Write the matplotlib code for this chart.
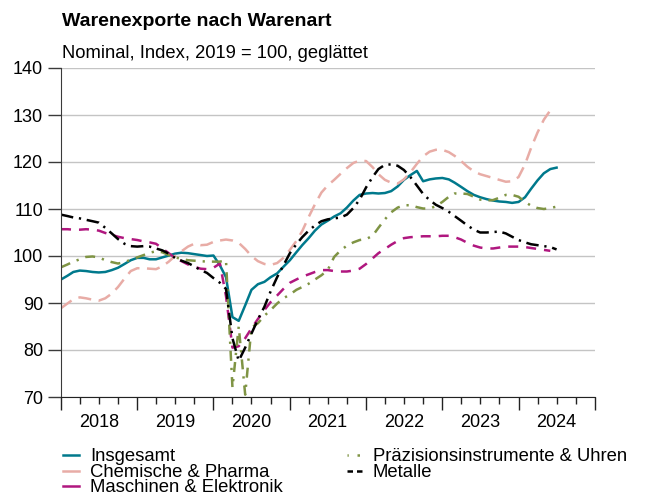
import matplotlib
matplotlib.use("Agg")
import matplotlib.pyplot as plt
import matplotlib.dates as mdates
from matplotlib.lines import Line2D
import pandas as pd

plt.rcParams['font.family'] = ['Liberation Sans', 'DejaVu Sans']

title = "Warenexporte nach Warenart"
subtitle = "Nominal, Index, 2019 = 100, geglättet"
start_month = "2018-01-01"

insgesamt = [95.0, 95.8, 96.6, 96.9, 96.8, 96.6, 96.5, 96.6, 97.0, 97.5, 98.3, 99.1,
             99.6, 99.6, 99.3, 99.3, 99.7, 100.1, 100.5, 100.7, 100.6, 100.4, 100.2, 100.0,
             100.1, 98.0, 95.5, 87.0, 86.2, 89.5, 92.8, 94.0, 94.5, 95.5, 96.3, 97.7,
             99.1, 100.8, 102.3, 103.8, 105.4, 106.7, 107.5, 108.4, 109.1, 110.3, 111.8, 113.0,
             113.3, 113.4, 113.3, 113.4, 113.8, 114.8, 116.2, 117.2, 118.1, 115.9, 116.3, 116.5,
             116.6, 116.3, 115.6, 114.7, 113.8, 113.0, 112.5, 112.1, 111.8, 111.6, 111.5, 111.3,
             111.5, 112.5, 114.3, 116.1, 117.6, 118.5, 118.8]
chemie = [88.9, 89.9, 90.8, 91.2, 91.0, 90.7, 90.5, 91.0, 92.0, 93.4, 95.2, 96.8,
          97.4, 97.4, 97.3, 97.2, 97.8, 98.8, 100.0, 101.0, 102.0, 102.6, 102.3, 102.4,
          103.0, 103.3, 103.5, 103.3, 102.8, 101.5, 100.0, 98.9, 98.3, 98.1, 98.5, 99.6,
          101.3, 103.2, 105.3, 108.3, 111.0, 113.5, 115.0, 116.2, 117.5, 118.7, 119.8, 120.3,
          120.2, 118.9, 117.4, 116.2, 115.6, 115.4, 116.3, 117.8, 119.6, 121.2, 122.2, 122.6,
          122.6, 122.1, 121.3, 120.2, 119.0, 118.0, 117.4, 117.0, 116.6, 116.2, 115.8, 115.9,
          116.8, 119.5, 123.0, 126.3, 129.0, 131.0]
maschinen = [105.7, 105.7, 105.6, 105.6, 105.7, 105.6, 105.4, 104.9, 104.5, 104.1, 103.8, 103.6,
             103.4, 103.1, 102.9, 102.6, 101.6, 100.6, 99.6, 98.9, 98.2, 97.7, 97.3, 97.2,
             97.5, 98.4, 91.5, 80.5, 80.8, 82.5, 84.6, 86.6, 88.5, 90.2, 91.6, 93.0,
             94.3, 95.0, 95.6, 96.1, 96.6, 97.0, 97.0, 96.8, 96.7, 96.7, 96.9, 97.3,
             98.3, 99.5, 100.6, 101.5, 102.4, 103.2, 103.8, 104.0, 104.1, 104.2, 104.2, 104.2,
             104.3, 104.3, 104.0, 103.5, 102.8, 102.2, 101.8, 101.6, 101.6, 101.8, 102.0, 102.0,
             102.0, 101.9, 101.7, 101.5, 101.3, 101.1]
praezision = [97.6, 98.2, 98.8, 99.3, 99.8, 99.9, 99.7, 99.1, 98.7, 98.4, 98.7, 99.2,
              99.7, 100.2, 100.7, 101.0, 100.8, 100.2, 99.7, 99.4, 99.1, 99.0, 98.9, 98.8,
              98.8, 98.8, 99.1, 72.0, 85.0, 70.5, 84.8, 85.7, 87.3, 88.5, 89.9, 91.0,
              91.8, 92.8, 93.4, 94.1, 95.0, 95.9, 97.0, 99.8, 101.2, 102.2, 102.9, 103.4,
              103.6, 104.3, 106.0, 107.8, 109.3, 110.3, 110.8, 110.8, 110.4, 110.1, 110.1, 110.6,
              111.5, 112.6, 113.3, 113.3, 113.2, 112.6, 112.0, 111.8, 111.9, 112.4, 113.0, 113.0,
              112.6, 111.5, 110.7, 110.2, 110.0, 110.2, 110.5]
metalle = [108.8, 108.5, 108.2, 108.0, 107.7, 107.4, 107.1, 106.0, 104.8, 103.6, 102.6, 102.1,
           102.0, 102.1, 102.0, 101.6, 101.2, 100.5, 99.6, 99.0, 98.5, 97.8, 97.0, 96.4,
           95.3, 94.3, 93.0, 82.5, 77.7, 80.5, 83.5, 86.5, 89.2, 92.5, 95.5, 98.0,
           100.6, 102.5, 104.0, 105.4, 106.5, 107.4, 107.8, 108.0, 108.2, 108.8, 110.2, 112.0,
           114.6, 116.8, 118.5, 119.4, 119.5, 119.2, 118.3, 116.8, 115.0, 113.2, 111.9, 110.9,
           110.2, 109.4, 108.5, 107.5, 106.5, 105.6, 105.0, 105.0, 105.1, 105.2, 104.8, 104.1,
           103.4, 102.9, 102.5, 102.3, 102.1, 101.9, 101.4]

# name, values, colour, line style in plot, line style of legend key
series = [
    ("Insgesamt", insgesamt, "#00798c", "-", "-"),
    ("Chemische & Pharma", chemie, "#e8aca6", (0, (5.2, 3.0)), "-"),
    ("Maschinen & Elektronik", maschinen, "#b0177f", (0, (4.0, 3.2)), "-"),
    ("Präzisionsinstrumente & Uhren", praezision, "#7f9444", (0, (4.0, 2.8, 0.9, 2.8)), (0.5, (1.0, 3.5))),
    ("Metalle", metalle, "#000000", (0, (5.0, 2.3, 0.9, 2.3)), (0, (2.2, 1.6))),
]

W, H = 659, 495
fig = plt.figure(figsize=(W/100, H/100), dpi=100)
ax = fig.add_axes([61/W, 1-397/H, (595-61)/W, (397-68)/H])

for name, vals, col, ls, _ in series:
    dates = pd.date_range(start_month, periods=len(vals), freq="MS")
    ax.plot(dates, vals, color=col, linestyle=ls, lw=1.8, label=name)

ax.set_ylim(70, 140)
ax.set_yticks([70, 80, 90, 100, 110, 120, 130, 140])
ax.set_xlim(pd.Timestamp("2018-01-01"), pd.Timestamp("2025-01-01"))
ax.grid(axis="y", color="#c4c4c4", lw=1)
ax.set_axisbelow(True)
for s in ["top", "right"]:
    ax.spines[s].set_visible(False)
ax.spines["left"].set_color("#3a3a3a")
ax.spines["bottom"].set_color("#222222")

ax.xaxis.set_major_locator(mdates.YearLocator())
ax.xaxis.set_major_formatter(plt.NullFormatter())
ax.xaxis.set_minor_locator(mdates.MonthLocator(bymonth=[4, 7, 10]))
def fmt(x, pos):
    d = mdates.num2date(x)
    return str(d.year) if d.month == 7 else ""
ax.xaxis.set_minor_formatter(plt.FuncFormatter(fmt))
ax.tick_params(axis="x", which="major", length=9.4, width=1, color="#222222")
ax.tick_params(axis="x", which="minor", length=5, width=1, color="#222222", labelsize=13, pad=7.5)
ax.tick_params(axis="y", length=9.4, width=1, color="#3a3a3a", labelsize=13, pad=3.5)

fig.text(62/W, 1-22/H, title, fontsize=14, fontweight="bold", va="center", ha="left")
fig.text(62/W, 1-54/H, subtitle, fontsize=13.2, va="center", ha="left")

# legend drawn manually to match the tight row spacing of the reference
leg_rows = [455, 470.7, 486.0]
leg_cols = [(63, 79, 90), (347, 362, 373)]
slots = [(0, 0), (0, 1), (0, 2), (1, 0), (1, 1)]
for (name, _, col, _, lls), (c, r) in zip(series, slots):
    x0, x1, xt = leg_cols[c]
    y = 1 - leg_rows[r]/H
    fig.add_artist(Line2D([x0/W, x1/W], [y, y], color=col, linestyle=lls, lw=1.8,
                          transform=fig.transFigure))
    fig.text(xt/W, 1-(leg_rows[r]+6.2)/H, name, fontsize=13.3, va="baseline", ha="left")

fig.savefig("out.png", dpi=100)
